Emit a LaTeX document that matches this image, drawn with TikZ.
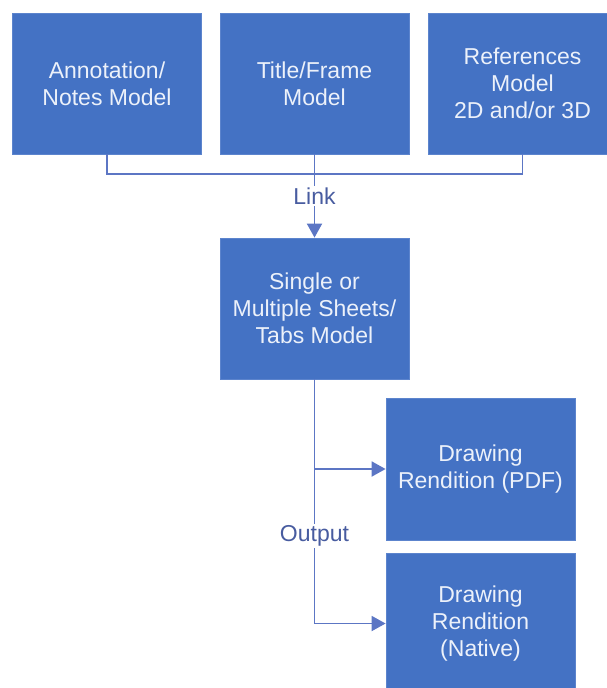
\documentclass[tikz,border=0pt]{standalone}
\usepackage{fontspec}
\setmainfont{Liberation Sans}
\usetikzlibrary{arrows.meta}
\definecolor{boxblue}{RGB}{68,114,196}
\definecolor{boxedge}{RGB}{92,132,205}
\definecolor{lineblue}{RGB}{92,118,196}
\definecolor{labelblue}{RGB}{72,92,160}
\definecolor{boxtext}{RGB}{236,241,250}
\begin{document}
\begin{tikzpicture}[x=1pt,y=-1pt,
  box/.style={fill=boxblue, draw=boxedge, line width=0.8pt, minimum width=189pt,
    minimum height=141pt, inner sep=0pt, text=boxtext, align=center,
    font=\fontsize{23}{27}\selectfont},
  conn/.style={draw=lineblue, line width=1.9pt},
  arr/.style={conn, -{Triangle[length=14pt,width=15pt]}},
  lbl/.style={fill=white, text=labelblue, inner sep=2pt,
    font=\fontsize{23}{27}\selectfont}]
\useasboundingbox (0,0) rectangle (606,688);
% top row
\node[box] (A) at (107,83.5) {Annotation/\\Notes Model};
\node[box] (B) at (314.5,83.5) {Title/Frame\\Model};
\node[box] (C) at (522.5,83.5) {References\\Model\\2D and/or 3D};
% middle
\node[box] (M) at (314.5,308.5) {Single or\\Multiple Sheets/\\Tabs Model};
% outputs
\node[box, minimum height=142pt] (D) at (480.5,469) {Drawing\\Rendition (PDF)};
\node[box] (E) at (480.5,623.5) {Drawing\\Rendition\\(Native)};
% link connectors
\draw[conn] (A.south) -- ++(0,20) -| (C.south);
\draw[arr] (B.south) -- (M.north);
\node[lbl] (link) at (314.5,196) {Link};
% output connectors
\draw[arr] (M.south) |- (E.west);
\draw[arr] (M.south |- D.west) -- (D.west);
\node[lbl] (out) at (314.5,536) {Output};
\end{tikzpicture}
\end{document}
